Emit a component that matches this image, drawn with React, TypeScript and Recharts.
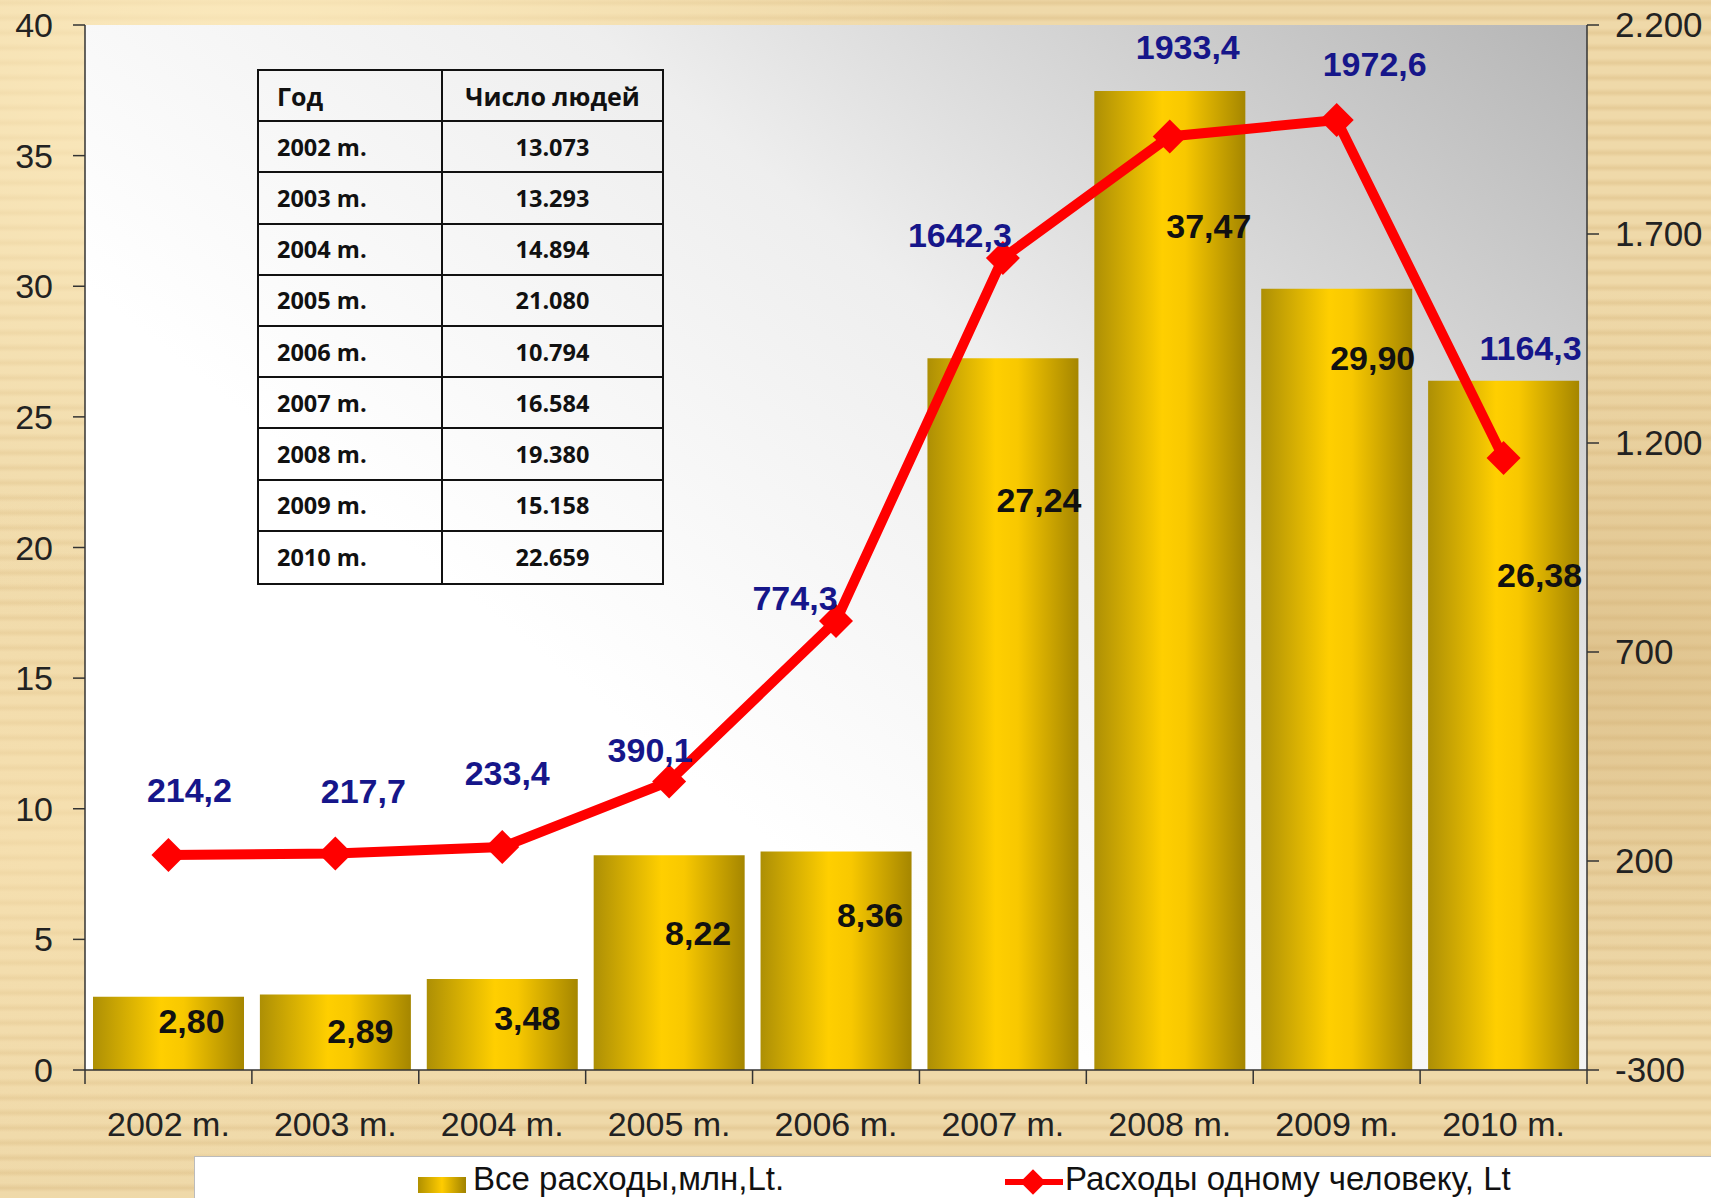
import { ComposedChart, Bar, Line, XAxis, YAxis, CartesianGrid, LabelList } from "recharts";

const years = ["2002 m.", "2003 m.", "2004 m.", "2005 m.", "2006 m.", "2007 m.", "2008 m.", "2009 m.", "2010 m."];
const totalSpend = [2.8, 2.89, 3.48, 8.22, 8.36, 27.24, 37.47, 29.9, 26.38];
const perPerson = [214.2, 217.7, 233.4, 390.1, 774.3, 1642.3, 1933.4, 1972.6, 1164.3];
const peopleCount = ["13.073", "13.293", "14.894", "21.080", "10.794", "16.584", "19.380", "15.158", "22.659"];
const leftTicks = [0, 5, 10, 15, 20, 25, 30, 35, 40];
const rightTicks = [-300, 200, 700, 1200, 1700, 2200];

const tableHeader = ["Год", "Число людей"];
const legendNames = ["Все расходы,млн,Lt.", "Расходы одному человеку, Lt"];

// label placement (dx, dy in px)
const barLabelNudge = [[23, 24], [25, 37], [25, 39], [29, 78], [34, 63], [36, 142], [39, 135], [36, 69], [36, 194]];
const lineLabelNudge = [[21, -65], [28, -63], [5, -74], [-19, -32], [-41, -23], [-43, -23], [18, -89], [38, -56], [27, -110]];

const W = 1711;
const H = 1198;
const PLOT_LEFT = 85;
const PLOT_RIGHT = 1587;
const PLOT_TOP = 25;
const PLOT_BOTTOM = 1070;
const BAND = (PLOT_RIGHT - PLOT_LEFT) / years.length;
const FONT = "'Liberation Sans', Arial, sans-serif";

const chartData = years.map((year, i) => ({ year, total: totalSpend[i], perPerson: perPerson[i] }));

const fmtThousands = (v: number) => {
  const s = Math.abs(v).toString();
  const out = s.length > 3 ? s.slice(0, s.length - 3) + "." + s.slice(-3) : s;
  return (v < 0 ? "-" : "") + out;
};

function YearTick(props: any) {
  const { x, y, payload, index } = props;
  const axisY = PLOT_BOTTOM;
  const left = x - BAND / 2;
  return (
    <g>
      <line x1={left} x2={left} y1={axisY} y2={axisY + 14} stroke="#333" strokeWidth={1.5} />
      {index === years.length - 1 && (
        <line x1={x + BAND / 2} x2={x + BAND / 2} y1={axisY} y2={axisY + 14} stroke="#333" strokeWidth={1.5} />
      )}
      <text x={x} y={y} dy="0.71em" textAnchor="middle" fontSize={34} fill="#222" fontFamily={FONT}>
        {payload.value}
      </text>
    </g>
  );
}

function BarValueLabel(props: any) {
  const { x, y, width, value } = props;
  const i = props.index ?? totalSpend.indexOf(value);
  const [dx, dy] = barLabelNudge[i] || [0, 30];
  return (
    <text
      x={x + width / 2 + dx}
      y={y + dy}
      textAnchor="middle"
      dominantBaseline="central"
      fontSize={34}
      fontWeight="bold"
      fill="#111"
      fontFamily={FONT}
    >
      {Number(value).toFixed(2).replace(".", ",")}
    </text>
  );
}

function LineValueLabel(props: any) {
  const { x, y, value } = props;
  const i = props.index ?? perPerson.indexOf(value);
  const [dx, dy] = lineLabelNudge[i] || [0, -40];
  return (
    <text
      x={x + dx}
      y={y + dy}
      textAnchor="middle"
      dominantBaseline="central"
      fontSize={34}
      fontWeight="bold"
      fill="#16168a"
      fontFamily={FONT}
    >
      {Number(value).toFixed(1).replace(".", ",")}
    </text>
  );
}

function Diamond(props: any) {
  const { cx, cy, index } = props;
  const r = 17;
  return (
    <polygon
      key={`d-${index}`}
      points={`${cx},${cy - r} ${cx + r},${cy} ${cx},${cy + r} ${cx - r},${cy}`}
      fill="#ff0000"
    />
  );
}

function PeopleTable() {
  const rows = [tableHeader, ...years.map((y, i) => [y, peopleCount[i]])];
  const line = "2.5px solid #111";
  return (
    <div
      style={{
        position: "absolute",
        left: 257,
        top: 69,
        width: 407,
        height: 516,
        boxSizing: "border-box",
        border: line,
        display: "grid",
        gridTemplateColumns: "184px 1fr",
        gridTemplateRows: "repeat(10, 1fr)",
        fontFamily: "'Open Sans', sans-serif",
        fontWeight: 700,
        color: "#111",
      }}
    >
      {rows.map((r, ri) =>
        r.map((txt, ci) => (
          <div
            key={`${ri}-${ci}`}
            style={{
              display: "flex",
              alignItems: "center",
              justifyContent: ci === 0 ? "flex-start" : "center",
              paddingLeft: ci === 0 ? 18 : 0,
              borderRight: ci === 0 ? line : "none",
              borderBottom: ri < rows.length - 1 ? line : "none",
              fontSize: ri === 0 ? 25 : 23.5,
            }}
          >
            {txt}
          </div>
        ))
      )}
    </div>
  );
}

function SlideLegend() {
  const text = { position: "absolute" as const, top: 6, fontSize: 33, lineHeight: "32px", fontFamily: FONT, color: "#111", whiteSpace: "nowrap" as const };
  return (
    <div style={{ position: "absolute", left: 194, top: 1156, width: W - 194, height: H - 1156, background: "#fff", borderTop: "1px solid #bbb", borderLeft: "1px solid #bbb" }}>
      <div style={{ position: "absolute", left: 417 - 194, top: 20, width: 48, height: 16, background: "linear-gradient(90deg,#b09000,#ffcc00 50%,#a08200)" }} />
      <div style={{ ...text, left: 472 - 194 }}>{legendNames[0]}</div>
      <div style={{ position: "absolute", left: 1004 - 194, top: 22, width: 58, height: 6, background: "#ff0000" }} />
      <div style={{ position: "absolute", left: 1032 - 194 - 9, top: 16, width: 18, height: 18, background: "#ff0000", transform: "rotate(45deg)" }} />
      <div style={{ ...text, left: 1064 - 194 }}>{legendNames[1]}</div>
    </div>
  );
}

export default function App() {
  return (
    <div
      style={{
        position: "absolute",
        left: 0,
        top: 0,
        width: W,
        height: H,
        overflow: "hidden",
        backgroundColor: "#ebd29f",
        backgroundImage:
          "radial-gradient(ellipse at 15% 8%, rgba(255,238,195,0.8), transparent 35%)," +
          "radial-gradient(ellipse at 92% 55%, rgba(205,170,110,0.45), transparent 40%)," +
          "radial-gradient(ellipse at 5% 70%, rgba(250,228,180,0.6), transparent 30%)," +
          "repeating-linear-gradient(0deg, rgba(255,242,205,0.22) 0px, rgba(255,242,205,0.22) 6px, rgba(195,160,100,0.14) 10px, rgba(255,242,205,0.22) 15px)",
      }}
    >
      <ComposedChart
        width={W}
        height={H}
        data={chartData}
        margin={{ top: PLOT_TOP, right: 0, bottom: 0, left: 0 }}
        barCategoryGap={8}
      >
        <defs>
          <linearGradient id="plotBg" x1="0.3" y1="0.6" x2="1" y2="0">
            <stop offset="0" stopColor="#ffffff" />
            <stop offset="0.45" stopColor="#eeeeee" />
            <stop offset="1" stopColor="#b5b5b5" />
          </linearGradient>
          <linearGradient id="barGold" x1="0" y1="0" x2="1" y2="0">
            <stop offset="0" stopColor="#ad8f05" />
            <stop offset="0.45" stopColor="#ffcf00" />
            <stop offset="0.6" stopColor="#f8c800" />
            <stop offset="1" stopColor="#a58600" />
          </linearGradient>
        </defs>
        <CartesianGrid fill="url(#plotBg)" horizontal={false} vertical={false} xAxisId="main" yAxisId="left" />
        <XAxis
          xAxisId="main"
          dataKey="year"
          height={H - PLOT_BOTTOM}
          interval={0}
          tickSize={0}
          tickMargin={42}
          tick={<YearTick />}
          axisLine={{ stroke: "#333", strokeWidth: 1.5 }}
        />
        <XAxis xAxisId="top" dataKey="year" orientation="top" height={0} tick={false} tickLine={false} axisLine={{ stroke: "#333", strokeWidth: 1.5 }} />
        <YAxis
          yAxisId="left"
          width={PLOT_LEFT}
          domain={[0, 40]}
          ticks={leftTicks}
          interval={0}
          tickSize={12}
          tickMargin={20}
          axisLine={{ stroke: "#333", strokeWidth: 1.5 }}
          tickLine={{ stroke: "#333", strokeWidth: 1.5 }}
          tick={{ fontSize: 34, fill: "#222", fontFamily: FONT }}
        />
        <YAxis
          yAxisId="right"
          orientation="right"
          width={W - PLOT_RIGHT}
          domain={[-300, 2200]}
          ticks={rightTicks}
          interval={0}
          tickSize={12}
          tickMargin={16}
          tickFormatter={fmtThousands}
          axisLine={{ stroke: "#333", strokeWidth: 1.5 }}
          tickLine={{ stroke: "#333", strokeWidth: 1.5 }}
          tick={{ fontSize: 35, fill: "#222", fontFamily: FONT }}
        />
        <Bar xAxisId="main" yAxisId="left" dataKey="total" fill="url(#barGold)" isAnimationActive={false}>
          <LabelList dataKey="total" content={<BarValueLabel />} />
        </Bar>
        <Line
          xAxisId="main"
          yAxisId="right"
          dataKey="perPerson"
          stroke="none"
          dot={false}
          activeDot={false}
          legendType="none"
          isAnimationActive={false}
        >
          <LabelList dataKey="perPerson" content={<LineValueLabel />} />
        </Line>
        <Line
          xAxisId="main"
          yAxisId="right"
          dataKey="perPerson"
          stroke="#ff0000"
          strokeWidth={10}
          dot={(p: any) => <Diamond {...p} />}
          activeDot={false}
          isAnimationActive={false}
        />
      </ComposedChart>
      <PeopleTable />
      <SlideLegend />
    </div>
  );
}
